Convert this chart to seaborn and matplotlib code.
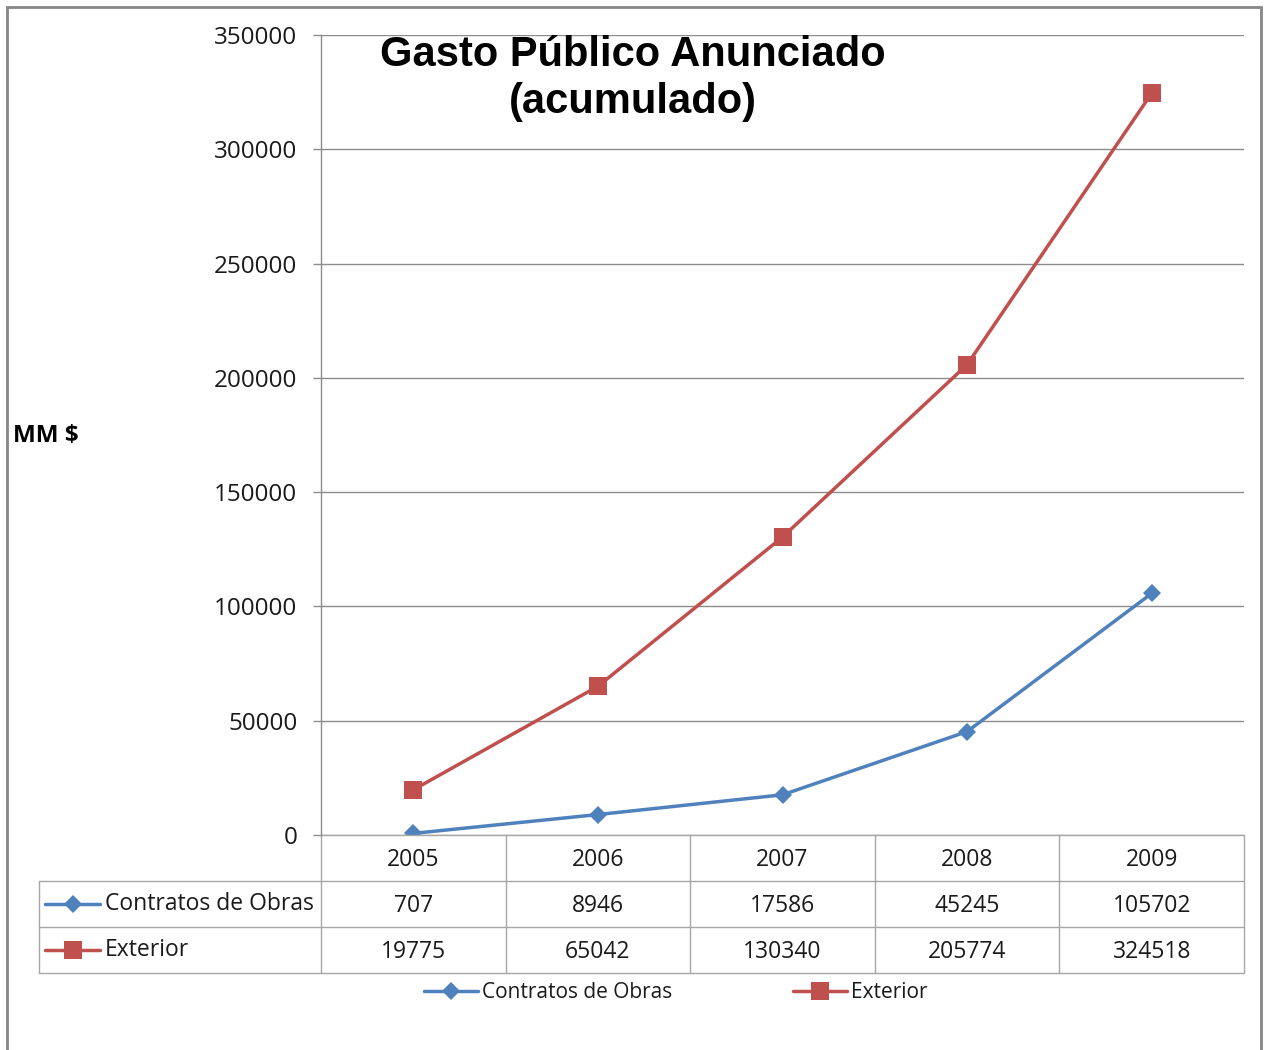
import pandas as pd
import matplotlib.pyplot as plt
import seaborn as sns
from matplotlib.lines import Line2D
from matplotlib.patches import Rectangle

# data (table values)
years = ["2005", "2006", "2007", "2008", "2009"]
contratos = [707, 8946, 17586, 45245, 105702]
exterior = [19775, 65042, 130340, 205774, 324518]
series_names = ["Contratos de Obras", "Exterior"]
colors = {"Contratos de Obras": "#4F81BD", "Exterior": "#C0504D"}
markers = {"Contratos de Obras": "D", "Exterior": "s"}
marker_sizes = {"Contratos de Obras": 9.5, "Exterior": 13}

df = pd.DataFrame({
    "year": years * 2,
    "value": contratos + exterior,
    "serie": [series_names[0]] * len(years) + [series_names[1]] * len(years),
})

sns.set_style("white")
plt.rcParams["font.family"] = ["Open Sans", "DejaVu Sans"]

fig = plt.figure(figsize=(12.68, 10.5), dpi=100)
ax = fig.add_axes([321 / 1268, 1 - 835 / 1050, 923 / 1268, 800 / 1050])

sns.lineplot(
    data=df, x="year", y="value", hue="serie", style="serie",
    palette=colors, markers=markers, dashes=False, sort=False,
    linewidth=2.5, markeredgewidth=0, legend=False, ax=ax,
)
for line, name in zip(ax.lines, series_names):
    line.set_markersize(marker_sizes[name])

grid_c = "#8C8C8C"
text_c = "#1A1A1A"
ax.set_xlim(-0.5, len(years) - 0.5)
ax.set_ylim(0, 350000)
ax.set_yticks(range(0, 350001, 50000))
ax.yaxis.grid(True, color=grid_c, linewidth=1)
ax.xaxis.grid(False)
ax.set_xticks([])
ax.set_xlabel("")
for s in ["top", "right", "bottom"]:
    ax.spines[s].set_visible(False)
ax.spines["left"].set_color(grid_c)
ax.spines["left"].set_linewidth(1)
ax.tick_params(axis="y", which="major", left=True, length=6, width=1,
               color=grid_c, pad=11, labelsize=17.5, labelcolor=text_c)

ax.set_ylabel("MM $", rotation=0, fontsize=17.5, fontweight="bold",
              color="black", va="center", ha="center")
ax.yaxis.set_label_coords(-0.298, 0.499)

ax.text(0.338, 0.946, "Gasto Público Anunciado\n(acumulado)",
        transform=ax.transAxes, ha="center", va="center",
        multialignment="center", fontsize=30, fontweight="bold", color="black",
        family=["Liberation Sans", "DejaVu Sans"], linespacing=1.22)

# data table under the axes
row_h = 46 / 800
off = 2.5 / 800
x_left = (39 - 321) / 923
table_c = "#A6A6A6"
tx = ax.get_xaxis_transform()
kw = dict(color=table_c, linewidth=1, clip_on=False)

# horizontal lines
ax.add_line(Line2D([-0.5, len(years) - 0.5], [0, 0], transform=tx, **kw))
for r in (1, 2, 3):
    ax.add_line(Line2D([x_left, 1], [-r * row_h, -r * row_h],
                       transform=ax.transAxes, **kw))
# vertical lines
for i in range(len(years) + 1):
    ax.add_line(Line2D([i - 0.5, i - 0.5], [0, -3 * row_h], transform=tx, **kw))
ax.add_line(Line2D([x_left, x_left], [-row_h, -3 * row_h],
                   transform=ax.transAxes, **kw))

txt_kw = dict(ha="center", va="center", fontsize=16.5, color=text_c, clip_on=False)
for i, y in enumerate(years):
    ax.text(i, -0.5 * row_h - off, y, transform=tx, **txt_kw)
for r, (name, vals) in enumerate(zip(series_names, [contratos, exterior])):
    yc = -(1.5 + r) * row_h
    for i, v in enumerate(vals):
        ax.text(i, yc - off, str(v), transform=tx, **txt_kw)
    x0 = (45 - 321) / 923
    x1 = (100 - 321) / 923
    ax.add_line(Line2D([x0, x1], [yc, yc], color=colors[name], linewidth=2.5,
                       transform=ax.transAxes, clip_on=False))
    ax.add_line(Line2D([(x0 + x1) / 2], [yc], marker=markers[name],
                       markersize=marker_sizes[name], color=colors[name],
                       markeredgewidth=0, linestyle="none",
                       transform=ax.transAxes, clip_on=False))
    ax.text((105 - 321) / 923, yc, name, transform=ax.transAxes, ha="left",
            va="center", fontsize=16.5, color=text_c, clip_on=False)

# legend below
handles = [Line2D([], [], color=colors[n], linewidth=2.5, marker=markers[n],
                  markersize=marker_sizes[n], markeredgewidth=0) for n in series_names]
fig.legend(handles, series_names, loc="center", bbox_to_anchor=(0.533, 1 - 993 / 1050),
           ncol=2, frameon=False, fontsize=15, handlelength=2.6,
           columnspacing=5.8, handletextpad=0.2, labelcolor=text_c)

# outer frame
fig.add_artist(Rectangle((7 / 1268, -0.02), 1254 / 1268, 1.02 - 7 / 1050,
                         transform=fig.transFigure, fill=False,
                         edgecolor="#868686", linewidth=2))

plt.savefig("out.png", dpi=100)
